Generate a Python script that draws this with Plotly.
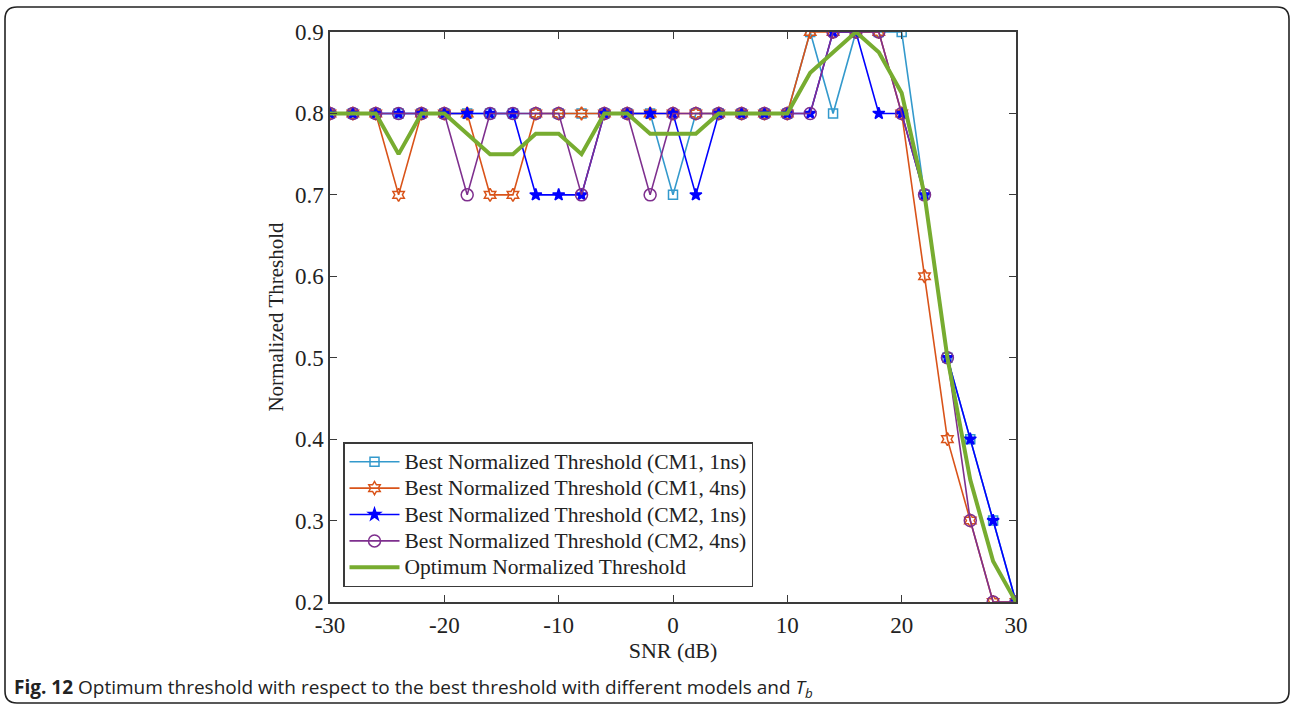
import plotly.graph_objects as go

# ---------------- data ----------------
snr_db = [-30, -28, -26, -24, -22, -20, -18, -16, -14, -12, -10, -8, -6, -4, -2, 0,
          2, 4, 6, 8, 10, 12, 14, 16, 18, 20, 22, 24, 26, 28, 30]

cm1_1ns = [0.8, 0.8, 0.8, 0.8, 0.8, 0.8, 0.8, 0.8, 0.8, 0.8, 0.8, 0.8, 0.8, 0.8, 0.8, 0.7,
           0.8, 0.8, 0.8, 0.8, 0.8, 0.9, 0.8, 0.9, 0.9, 0.9, 0.7, 0.5, 0.4, 0.3, 0.2]
cm1_4ns = [0.8, 0.8, 0.8, 0.7, 0.8, 0.8, 0.8, 0.7, 0.7, 0.8, 0.8, 0.8, 0.8, 0.8, 0.8, 0.8,
           0.8, 0.8, 0.8, 0.8, 0.8, 0.9, 0.9, 0.9, 0.9, 0.8, 0.6, 0.4, 0.3, 0.2, 0.2]
cm2_1ns = [0.8, 0.8, 0.8, 0.8, 0.8, 0.8, 0.8, 0.8, 0.8, 0.7, 0.7, 0.7, 0.8, 0.8, 0.8, 0.8,
           0.7, 0.8, 0.8, 0.8, 0.8, 0.8, 0.9, 0.9, 0.8, 0.8, 0.7, 0.5, 0.4, 0.3, 0.2]
cm2_4ns = [0.8, 0.8, 0.8, 0.8, 0.8, 0.8, 0.7, 0.8, 0.8, 0.8, 0.8, 0.7, 0.8, 0.8, 0.7, 0.8,
           0.8, 0.8, 0.8, 0.8, 0.8, 0.8, 0.9, 0.9, 0.9, 0.8, 0.7, 0.5, 0.3, 0.2, 0.2]
optimum = [0.8, 0.8, 0.8, 0.75, 0.8, 0.8, 0.775, 0.75, 0.75, 0.775, 0.775, 0.75, 0.8, 0.8, 0.775, 0.775,
           0.775, 0.8, 0.8, 0.8, 0.8, 0.85, 0.875, 0.9, 0.875, 0.825, 0.7, 0.5, 0.35, 0.25, 0.2]

series_names = [
    "Best Normalized Threshold (CM1, 1ns)",
    "Best Normalized Threshold (CM1, 4ns)",
    "Best Normalized Threshold (CM2, 1ns)",
    "Best Normalized Threshold (CM2, 4ns)",
    "Optimum Normalized Threshold",
]
x_ticks = [-30, -20, -10, 0, 10, 20, 30]
y_ticks = [0.2, 0.3, 0.4, 0.5, 0.6, 0.7, 0.8, 0.9]

# ---------------- layout geometry ----------------
W, H = 1291, 705
L, R, T, B = 330, 1016, 32, 602          # plot area in window pixels
PW, PH = R - L, B - T


def px2x(px):
    return (px - L) / PW


def py2y(py):
    return (B - py) / PH


SERIF = "Liberation Serif, Times New Roman, serif"
AXC = "#3a3a3a"
TXT = "#222222"

fig = go.Figure()

styles = [
    dict(color="#3399CC", symbol="square-open", size=9),
    dict(color="#D95319", symbol="hexagram-open", size=10),
    dict(color="#0000FF", symbol="star", size=9),
    dict(color="#7E2F8E", symbol="circle-open", size=12),
]
for name, ys, st in zip(series_names[:4], [cm1_1ns, cm1_4ns, cm2_1ns, cm2_4ns], styles):
    fig.add_trace(go.Scatter(
        x=snr_db, y=ys, name=f'<span style="font-size:21.5px">{name}</span>',
        mode="lines+markers",
        line=dict(color=st["color"], width=1.6),
        marker=dict(symbol=st["symbol"], size=st["size"], color=st["color"],
                    line=dict(color=st["color"], width=1.5)),
    ))

fig.add_trace(go.Scatter(
    x=snr_db, y=optimum, name=f'<span style="font-size:21.5px">{series_names[4]}</span>',
    mode="lines",
    line=dict(color="#77AC30", width=4),
))

# rounded frame around whole figure
fx0, fx1 = px2x(5), px2x(1289)
fy0, fy1 = py2y(703), py2y(7)
rx, ry = 12 / PW, 12 / PH
path = (f"M {fx0 + rx},{fy1} L {fx1 - rx},{fy1} Q {fx1},{fy1} {fx1},{fy1 - ry} "
        f"L {fx1},{fy0 + ry} Q {fx1},{fy0} {fx1 - rx},{fy0} "
        f"L {fx0 + rx},{fy0} Q {fx0},{fy0} {fx0},{fy0 + ry} "
        f"L {fx0},{fy1 - ry} Q {fx0},{fy1} {fx0 + rx},{fy1} Z")
fig.add_shape(type="path", path=path, xref="paper", yref="paper",
              line=dict(color=TXT, width=1.6), layer="above")

fig.add_annotation(
    x=px2x(12), y=py2y(688), xref="paper", yref="paper",
    xanchor="left", yanchor="middle", showarrow=False,
    text="<b>Fig. 12</b> Optimum threshold with respect to the best threshold with different models and <i>T</i><sub><i>b</i></sub>",
    font=dict(family="Open Sans, Noto Sans, sans-serif", size=19, color=TXT),
)

axis_common = dict(
    showline=True, linecolor=AXC, linewidth=1.5, mirror="ticks",
    ticks="inside", ticklen=7, tickwidth=1.2, tickcolor=AXC,
    showgrid=False, zeroline=False,
    tickfont=dict(family=SERIF, size=23, color=TXT),
)

fig.update_layout(
    width=W, height=H,
    margin=dict(l=L, r=W - R, t=T, b=H - B),
    paper_bgcolor="white", plot_bgcolor="white",
    showlegend=True,
    legend=dict(
        x=px2x(343), y=py2y(442), xanchor="left", yanchor="top",
        bgcolor="white", bordercolor=AXC, borderwidth=1.5,
        font=dict(family=SERIF, size=18, color=TXT),
        tracegroupgap=0, itemwidth=50,
    ),
    xaxis=dict(
        range=[-30, 30], tickvals=x_ticks,
        ticktext=[str(v) for v in x_ticks],
        title=dict(text="SNR (dB)", font=dict(family=SERIF, size=22, color=TXT), standoff=0),
        ticklabelstandoff=2,
        **axis_common,
    ),
    yaxis=dict(
        range=[0.2, 0.9], tickvals=y_ticks,
        ticktext=[f"{v:.1f}" for v in y_ticks],
        title=dict(text="Normalized Threshold", font=dict(family=SERIF, size=21, color=TXT), standoff=6),
        ticklabelstandoff=0,
        **axis_common,
    ),
)

# remove the browser's default 8px body margin so the figure fills the window
fig.write_html("out.html", config={"displayModeBar": False},
               post_script="document.body.style.margin='0px';")
